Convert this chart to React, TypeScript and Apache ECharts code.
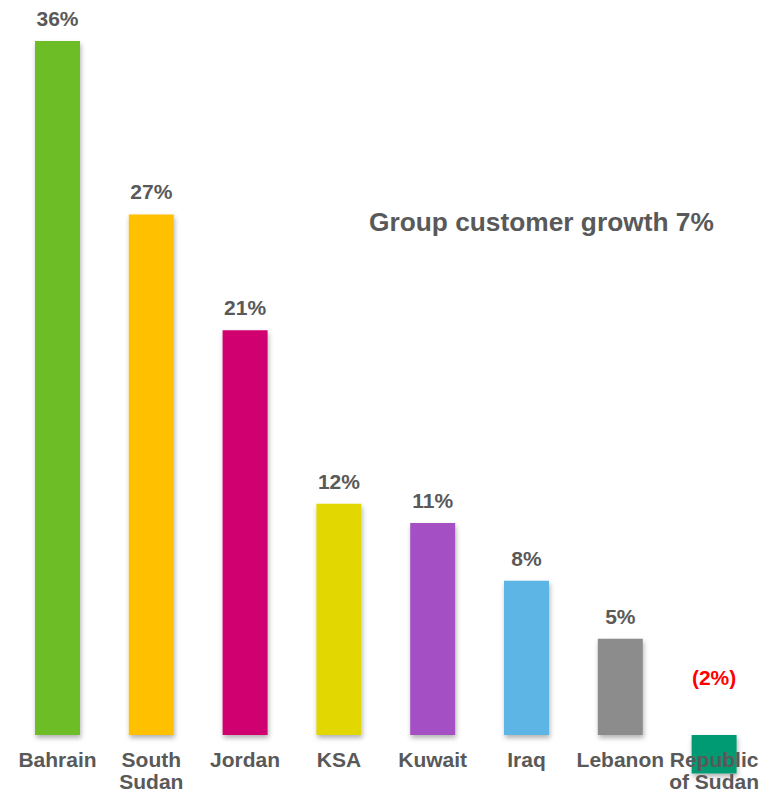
import React, { useEffect, useRef } from "react";
import * as echarts from "echarts";

// Customer growth by operating country
const countries = [
  "Bahrain",
  "South\nSudan",
  "Jordan",
  "KSA",
  "Kuwait",
  "Iraq",
  "Lebanon",
  "Republic\nof Sudan",
];
const growthPct = [36, 27, 21, 12, 11, 8, 5, -2];
const barColors = [
  "#6cbd28",
  "#ffc000",
  "#d10070",
  "#e2d700",
  "#a44fc4",
  "#5bb5e5",
  "#8c8c8c",
  "#009b72",
];
const headline = "Group customer growth 7%";

const FONT = "'Liberation Sans', Arial, Helvetica, sans-serif";
const TEXT_GREY = "#595959";

// value axis range and plot height (px)
const Y_MIN = -2;
const Y_MAX = 38;
const GRID_TOP = 2.4;
const GRID_BOTTOM = 19.4;
const CHART_H = 793;
const PX_PER_UNIT = (CHART_H - GRID_TOP - GRID_BOTTOM) / (Y_MAX - Y_MIN);

const fmtPct = (v: number) => (v < 0 ? `(${Math.abs(v)}%)` : `${v}%`);

export default function App() {
  const ref = useRef<HTMLDivElement>(null);

  useEffect(() => {
    if (!ref.current) return;
    const chart = echarts.init(ref.current, undefined, { renderer: "svg" });

    const data = growthPct.map((v, i) => {
      const negative = v < 0;
      return {
        value: v,
        itemStyle: { color: barColors[i] },
        // negative values are called out in red, above the zero line
        label: negative
          ? { color: "#ff0000", offset: [0, -35] }
          : undefined,
      };
    });

    chart.setOption({
      animation: false,
      backgroundColor: "#ffffff",
      title: {
        text: headline,
        left: 369,
        top: 209,
        padding: 0,
        textStyle: {
          fontFamily: FONT,
          fontWeight: "bold",
          fontSize: 26.3,
          color: TEXT_GREY,
        },
      },
      grid: {
        left: 10.6,
        right: 14,
        top: GRID_TOP,
        bottom: GRID_BOTTOM,
        containLabel: false,
        outerBoundsMode: "none",
      },
      xAxis: {
        type: "category",
        data: countries,
        z: 10,
        position: "bottom",
        // lift the category axis up to the zero line
        offset: Y_MIN * PX_PER_UNIT,
        axisLine: { show: false, onZero: false },
        axisTick: { show: false },
        splitLine: { show: false },
        axisLabel: {
          interval: 0,
          margin: 13,
          fontFamily: FONT,
          fontWeight: "bold",
          fontSize: 21,
          lineHeight: 22,
          color: TEXT_GREY,
        },
      },
      yAxis: {
        type: "value",
        min: Y_MIN,
        max: Y_MAX,
        axisLine: { show: false },
        axisTick: { show: false },
        axisLabel: { show: false },
        splitLine: { show: false },
      },
      series: [
        {
          type: "bar",
          data,
          barWidth: 45,
          itemStyle: {
            shadowBlur: 5,
            shadowColor: "rgba(0,0,0,0.3)",
            shadowOffsetX: 1,
            shadowOffsetY: 3,
          },
          label: {
            show: true,
            position: "top",
            distance: 12,
            fontFamily: FONT,
            fontWeight: "bold",
            fontSize: 21,
            color: TEXT_GREY,
            formatter: (p: any) => fmtPct(p.value),
          },
        },
      ],
    });

    return () => chart.dispose();
  }, []);

  return (
    <div
      ref={ref}
      style={{ position: "fixed", left: 0, top: 0, width: 775, height: CHART_H }}
    />
  );
}
